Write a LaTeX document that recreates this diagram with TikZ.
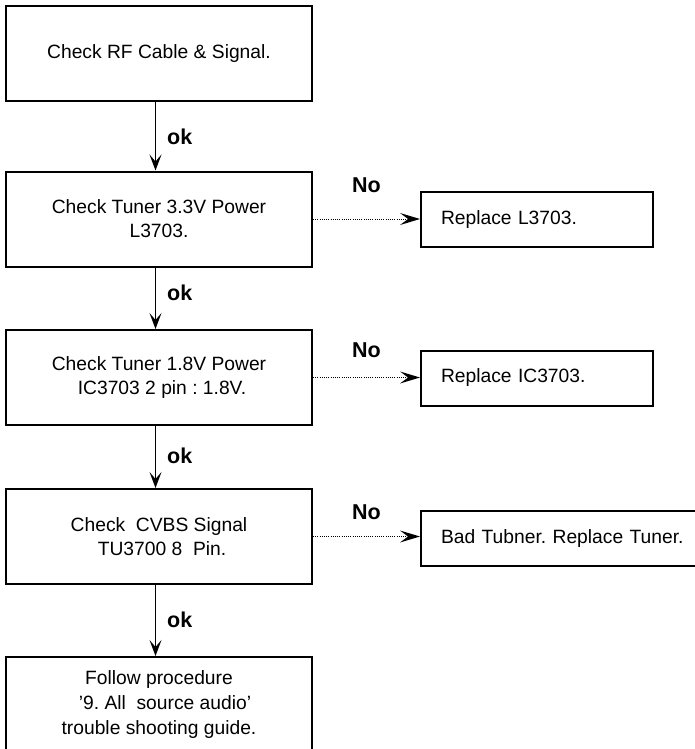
\documentclass[tikz,border=0pt]{standalone}
\usepackage{fontspec}
\setmainfont{Liberation Sans}
\usetikzlibrary{arrows.meta}
\frenchspacing
\begin{document}
\begin{tikzpicture}[x=1pt,y=-1pt,
  lbox/.style={draw, line width=2pt, minimum width=306pt, minimum height=95pt, inner sep=0pt, align=center, font=\frenchspacing\fontsize{19.25}{24}\selectfont},
  rbox/.style={draw, line width=2pt, minimum height=55pt, inner xsep=20pt, inner ysep=0pt, align=left, anchor=west, font=\frenchspacing\fontsize{19.25}{24}\selectfont},
  okarrow/.style={line width=1.6pt, -{Stealth[length=16pt,width=12pt,inset=7pt]}},
  noarrow/.style={line width=1pt, dash pattern=on 1pt off 1.2pt, -{Stealth[length=20pt,width=12pt,inset=8pt,line width=0pt]}},
  oklabel/.style={anchor=base west, inner sep=0pt, font=\bfseries\fontsize{21.5}{24}\selectfont},
  nolabel/.style={anchor=base west, inner sep=0pt, font=\bfseries\fontsize{21.5}{24}\selectfont}]
\useasboundingbox (0,0) rectangle (695,749);
\clip (0,0) rectangle (695,749);
\node[lbox] (b1) at (159,53.5) {Check RF Cable \& Signal.};
\node[lbox] (b2) at (159,219) {Check Tuner 3.3V Power\\L3703.};
\node[lbox] (b3) at (159,377.5) {Check Tuner 1.8V Power\\\hspace*{6pt}IC3703 2 pin : 1.8V.};
\node[lbox] (b4) at (159,536.5) {Check\ \ CVBS Signal\\\hspace*{6pt}TU3700 8\ \ Pin.};
\node[lbox, font=\frenchspacing\fontsize{19.25}{25}\selectfont] (b5) at (159,704.5) {Follow procedure\\\hspace*{12pt}'9. All\ \ source audio'\\trouble shooting guide.};
\node[rbox, text width=192pt] (r1) at (420,219.5) {Replace L3703.};
\node[rbox, text width=192pt] (r2) at (420,378) {Replace IC3703.};
\node[rbox, text width=320pt] (r3) at (420,538.5) {Bad Tubner. Replace Tuner.};
% ok arrows
\draw[okarrow] (b1.south -| 155.5,0) -- (b2.north -| 155.5,0);
\draw[okarrow] (b2.south -| 155.5,0) -- (b3.north -| 155.5,0);
\draw[okarrow] (b3.south -| 155.5,0) -- (b4.north -| 155.5,0);
\draw[okarrow] (b4.south -| 155.5,0) -- (b5.north -| 155.5,0);
\node[oklabel] (ok1) at (167,144.5) {ok};
\node[oklabel] (ok2) at (167,300) {ok};
\node[oklabel] (ok3) at (167,463) {ok};
\node[oklabel] (ok4) at (167,627) {ok};
% no arrows
\draw[noarrow] (b2.east) -- (b2.east -| r1.west);
\draw[noarrow] (b3.east) -- (b3.east -| r2.west);
\draw[noarrow] (b4.east) -- (b4.east -| r3.west);
\node[nolabel] (no1) at (352,192) {No};
\node[nolabel] (no2) at (352,357) {No};
\node[nolabel] (no3) at (352,519) {No};
\end{tikzpicture}
\end{document}
